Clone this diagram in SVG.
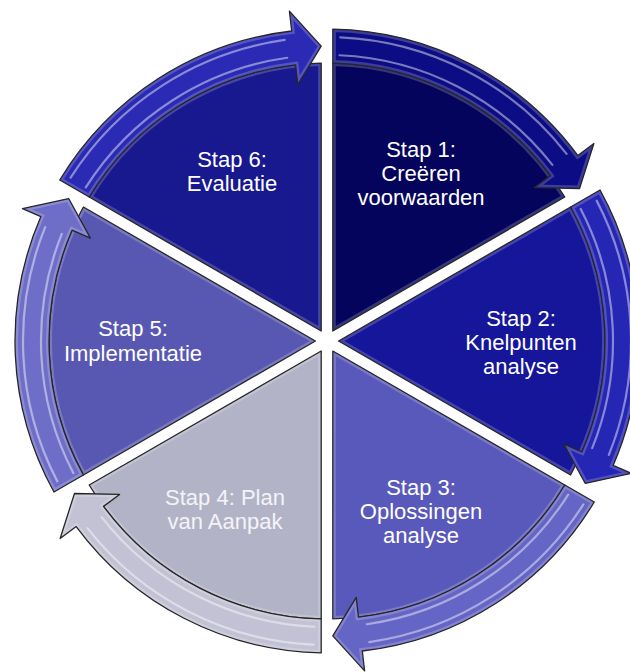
<svg xmlns="http://www.w3.org/2000/svg" xmlns:xlink="http://www.w3.org/1999/xlink" width="630" height="672" viewBox="0 0 630 672">
<style>
.out{fill:none;stroke:#262626;stroke-width:1.3;stroke-linejoin:round}
.glow{fill:none;stroke:#ffffff;stroke-width:6;stroke-opacity:0.2}
.streak{fill:none;stroke:#ffffff;stroke-width:2.2;stroke-linecap:round;stroke-opacity:0.45}
.lbl{font-family:"Liberation Sans",Arial,sans-serif;font-size:22px;fill:#ffffff;text-anchor:middle}
</style>
<defs>
<path id="pie" d="M5.8,-10.05 L5.8,-277.94 A278,278 0 0,1 237.80,-143.99 Z"/>
<path id="band" d="M5.8,-311.95 A312,312 0 0,1 250.80,-185.58 L266.88,-197.48 L252.52,-152.49 L207.40,-153.46 L223.47,-165.36 A278,278 0 0,0 5.8,-277.94 Z"/>
<clipPath id="cpie"><use xlink:href="#pie"/></clipPath>
<clipPath id="cband"><use xlink:href="#band"/></clipPath>
<g id="deco">
<use xlink:href="#pie" class="glow" clip-path="url(#cpie)"/>
<use xlink:href="#pie" class="out"/>
</g>
<g id="deco2">
<path class="streak" d="M13.26,-303.71 A304,304 0 0,1 239.56,-187.16"/>
<path class="streak" d="M12.47,-285.73 A286,286 0 0,1 225.37,-176.08"/>
<use xlink:href="#band" class="glow" clip-path="url(#cband)"/>
<use xlink:href="#band" class="out"/>
</g>
</defs>
<rect width="630" height="672" fill="#ffffff"/>
<g id="connectors"></g>
<g id="step1">
<g transform="translate(327,341) rotate(0)">
<use xlink:href="#pie" fill="#04045c"/><use xlink:href="#deco"/>
<use xlink:href="#band" fill="#0c0c84"/><use xlink:href="#deco2"/>
</g>
<text class="lbl"><tspan x="421" y="157">Stap 1:</tspan><tspan x="421" y="181">Creëren</tspan><tspan x="421" y="205">voorwaarden</tspan></text>
</g>
<g id="step2">
<g transform="translate(327,341) rotate(60)">
<use xlink:href="#pie" fill="#16169a"/><use xlink:href="#deco"/>
<use xlink:href="#band" fill="#2626b4"/><use xlink:href="#deco2"/>
</g>
<text class="lbl"><tspan x="521" y="326">Stap 2:</tspan><tspan x="521" y="350">Knelpunten</tspan><tspan x="521" y="374">analyse</tspan></text>
</g>
<g id="step3">
<g transform="translate(327,341) rotate(120)">
<use xlink:href="#pie" fill="#5959bb"/><use xlink:href="#deco"/>
<use xlink:href="#band" fill="#6565c6"/><use xlink:href="#deco2"/>
</g>
<text class="lbl"><tspan x="421" y="495">Stap 3:</tspan><tspan x="421" y="519">Oplossingen</tspan><tspan x="421" y="543">analyse</tspan></text>
</g>
<g id="step4">
<g transform="translate(327,341) rotate(180)">
<use xlink:href="#pie" fill="#b3b3c7"/><use xlink:href="#deco"/>
<use xlink:href="#band" fill="#c2c2d4"/><use xlink:href="#deco2"/>
</g>
<text class="lbl" style="fill:#f4f4f8"><tspan x="225" y="505">Stap 4: Plan</tspan><tspan x="225" y="529">van Aanpak</tspan></text>
</g>
<g id="step5">
<g transform="translate(327,341) rotate(240)">
<use xlink:href="#pie" fill="#5858b3"/><use xlink:href="#deco"/>
<use xlink:href="#band" fill="#6e6ec8"/><use xlink:href="#deco2"/>
</g>
<text class="lbl"><tspan x="133" y="336">Stap 5:</tspan><tspan x="133" y="361">Implementatie</tspan></text>
</g>
<g id="step6">
<g transform="translate(327,341) rotate(300)">
<use xlink:href="#pie" fill="#18188f"/><use xlink:href="#deco"/>
<use xlink:href="#band" fill="#2a2ab4"/><use xlink:href="#deco2"/>
</g>
<text class="lbl"><tspan x="232" y="167">Stap 6:</tspan><tspan x="232" y="191">Evaluatie</tspan></text>
</g>
</svg>
